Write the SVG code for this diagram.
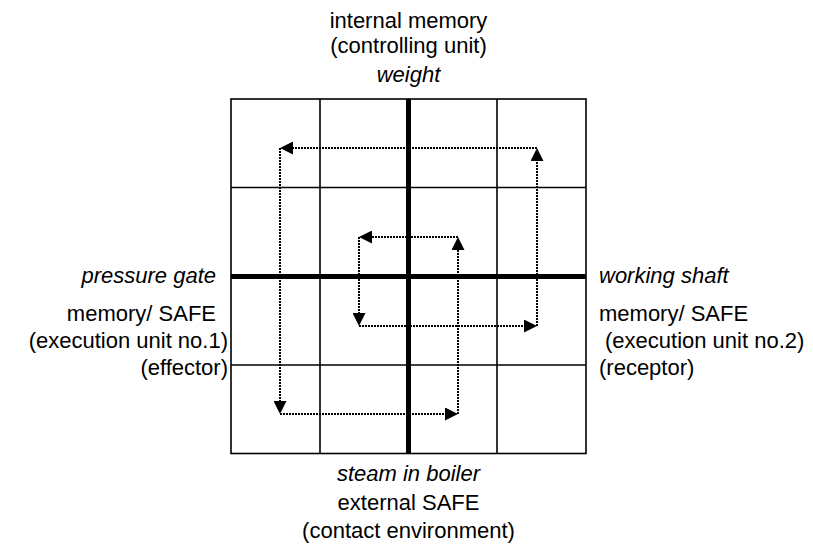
<svg xmlns="http://www.w3.org/2000/svg" width="813" height="545" viewBox="0 0 813 545">
  <style>
    .lbl { font-family: "Liberation Sans", Arial, sans-serif; font-size: 22px; fill: #000; }
    .it { font-style: italic; }
    .thin { stroke: #000; stroke-width: 1.6; fill: none; }
    .thick { stroke: #000; stroke-width: 5; fill: none; }
    .flow { stroke: #000; stroke-width: 2; stroke-dasharray: 2 1; fill: none; marker-end: url(#head); }
  </style>
  <defs>
    <marker id="head" viewBox="0 0 13 13" refX="0" refY="6.5" markerWidth="13" markerHeight="13" markerUnits="userSpaceOnUse" orient="auto">
      <path d="M0,0 L13,6.5 L0,13 Z" fill="#000"/>
    </marker>
  </defs>
  <rect width="813" height="545" fill="#fff"/>

  <!-- 4x4 grid with heavy centre axes -->
  <g id="grid">
    <rect class="thin" x="231" y="99" width="355" height="354.5"/>
    <line class="thin" x1="320" y1="99" x2="320" y2="453.5"/>
    <line class="thin" x1="497" y1="99" x2="497" y2="453.5"/>
    <line class="thin" x1="231" y1="187.5" x2="586" y2="187.5"/>
    <line class="thin" x1="231" y1="365" x2="586" y2="365"/>
    <line class="thick" x1="408.5" y1="99" x2="408.5" y2="453.5"/>
    <line class="thick" x1="231" y1="276.5" x2="586" y2="276.5"/>
  </g>

  <!-- dotted spiral of arrows -->
  <g id="connectors">
    <path class="flow" d="M537,148 H293"/>
    <path class="flow" d="M280,148 V401"/>
    <path class="flow" d="M280,414 H445"/>
    <path class="flow" d="M458,414 V250"/>
    <path class="flow" d="M458,237 H372"/>
    <path class="flow" d="M359,237 V313"/>
    <path class="flow" d="M359,326 H524"/>
    <path class="flow" d="M537,326 V161"/>
  </g>

  <g id="top-label">
    <text class="lbl" x="408.5" y="28" text-anchor="middle">internal memory</text>
    <text class="lbl" x="408.5" y="53" text-anchor="middle">(controlling unit)</text>
    <text class="lbl it" x="408.5" y="82" text-anchor="middle">weight</text>
  </g>

  <g id="left-label">
    <text class="lbl it" x="216" y="283" text-anchor="end">pressure gate</text>
    <text class="lbl" x="216" y="321" text-anchor="end">memory/ SAFE</text>
    <text class="lbl" x="228" y="348" text-anchor="end">(execution unit no.1)</text>
    <text class="lbl" x="228" y="375" text-anchor="end">(effector)</text>
  </g>

  <g id="right-label">
    <text class="lbl it" x="599" y="283">working shaft</text>
    <text class="lbl" x="599" y="321">memory/ SAFE</text>
    <text class="lbl" x="605" y="348">(execution unit no.2)</text>
    <text class="lbl" x="599" y="375">(receptor)</text>
  </g>

  <g id="bottom-label">
    <text class="lbl it" x="408.5" y="481" text-anchor="middle">steam in boiler</text>
    <text class="lbl" x="408.5" y="510" text-anchor="middle">external SAFE</text>
    <text class="lbl" x="408.5" y="538" text-anchor="middle">(contact environment)</text>
  </g>
</svg>
